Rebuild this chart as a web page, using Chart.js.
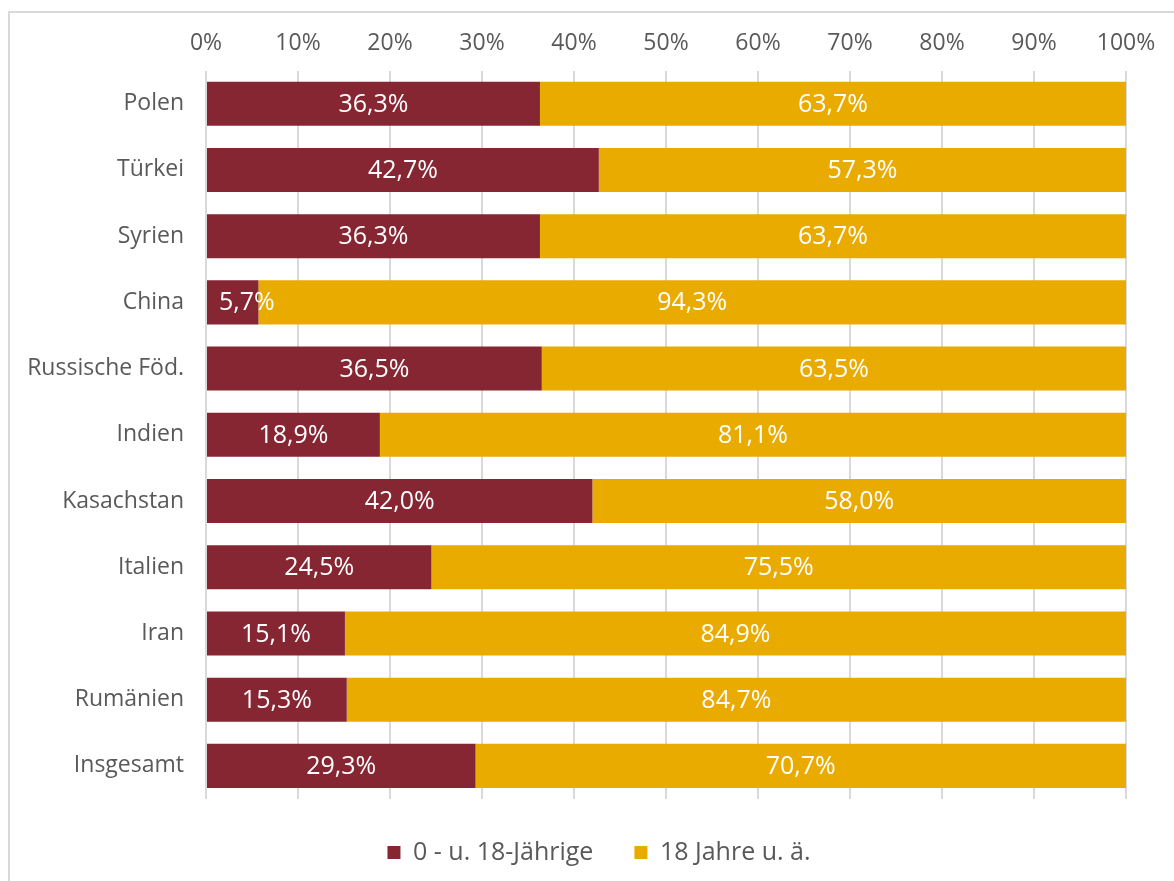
<!DOCTYPE html>
<html>
<head>
<meta charset="utf-8">
<script src="https://cdn.jsdelivr.net/npm/chart.js@4"></script>
<style>
  html, body { margin: 0; padding: 0; background: #fff; overflow: hidden; }
  #frame { position: absolute; left: 8px; top: 11px; width: 1300px; height: 1000px; border: 2px solid #d9d9d9; }
  #wrap { position: absolute; left: 0; top: 0; width: 1174px; height: 881px; }
</style>
</head>
<body>
<div id="frame"></div>
<div id="wrap"><canvas id="barChart"></canvas></div>
<script>
const COUNTRIES = ['Polen', 'Türkei', 'Syrien', 'China', 'Russische Föd.', 'Indien',
  'Kasachstan', 'Italien', 'Iran', 'Rumänien', 'Insgesamt'];
const UNDER_18 = [36.3, 42.7, 36.3, 5.7, 36.5, 18.9, 42.0, 24.5, 15.1, 15.3, 29.3];
const ADULTS = [63.7, 57.3, 63.7, 94.3, 63.5, 81.1, 58.0, 75.5, 84.9, 84.7, 70.7];
const SERIES_NAMES = ['0 - u. 18-Jährige', '18 Jahre u. ä.'];

const FONT = 'Open Sans';
const GREY = '#595959';

// writes the percentage in the middle of every segment
// (too narrow segments get their label nudged off the axis line)
const segmentLabels = {
  id: 'segmentLabels',
  afterDatasetsDraw(chart) {
    const ctx = chart.ctx;
    ctx.save();
    ctx.font = '25px "' + FONT + '"';
    ctx.fillStyle = '#fff';
    ctx.textAlign = 'center';
    ctx.textBaseline = 'middle';
    chart.data.datasets.forEach((ds, i) => {
      chart.getDatasetMeta(i).data.forEach((bar, j) => {
        const left = Math.min(bar.x, bar.base);
        const w = Math.abs(bar.x - bar.base);
        const txt = ds.data[j].toFixed(1).replace('.', ',') + '%';
        const tw = ctx.measureText(txt).width;
        let x = left + w / 2;
        if (tw > w) x = left + 12 + tw / 2;
        ctx.fillText(txt, x, bar.y + 1);
      });
    });
    ctx.restore();
  }
};

// centre the legend under the bars rather than under the whole canvas
const legendShift = {
  id: 'legendShift',
  afterLayout(chart) {
    const lg = chart.legend;
    const dx = (chart.chartArea.left + chart.chartArea.right) / 2 - (lg.left + lg.right) / 2 - 67;
    lg.left += dx;
    lg.right += dx;
  }
};

new Chart(document.getElementById('barChart'), {
  type: 'bar',
  data: {
    labels: COUNTRIES,
    datasets: [
      { label: SERIES_NAMES[0], data: UNDER_18, backgroundColor: '#862633' },
      { label: SERIES_NAMES[1], data: ADULTS, backgroundColor: '#EAAB00' }
    ]
  },
  options: {
    indexAxis: 'y',
    responsive: true,
    maintainAspectRatio: false,
    animation: false,
    layout: { padding: { top: 17, right: 48, bottom: 6, left: 0 } },
    datasets: { bar: { categoryPercentage: 1, barPercentage: 0.665 } },
    scales: {
      x: {
        position: 'top',
        stacked: true,
        min: 0,
        max: 100,
        ticks: {
          stepSize: 10,
          padding: 13,
          color: GREY,
          font: { family: FONT, size: 23 },
          callback: v => v + '%'
        },
        grid: { color: '#d9d9d9', lineWidth: 2, drawTicks: false },
        border: { display: false }
      },
      y: {
        stacked: true,
        afterFit: scale => { scale.width = 206; },
        ticks: { padding: 14, color: GREY, font: { family: FONT, size: 23 } },
        grid: { display: false },
        border: { display: false }
      }
    },
    plugins: {
      legend: {
        position: 'bottom',
        labels: {
          boxWidth: 13,
          boxHeight: 13,
          padding: 41,
          color: GREY,
          font: { family: FONT, size: 25 }
        }
      },
      tooltip: { enabled: false }
    }
  },
  plugins: [segmentLabels, legendShift]
});
</script>
</body>
</html>
